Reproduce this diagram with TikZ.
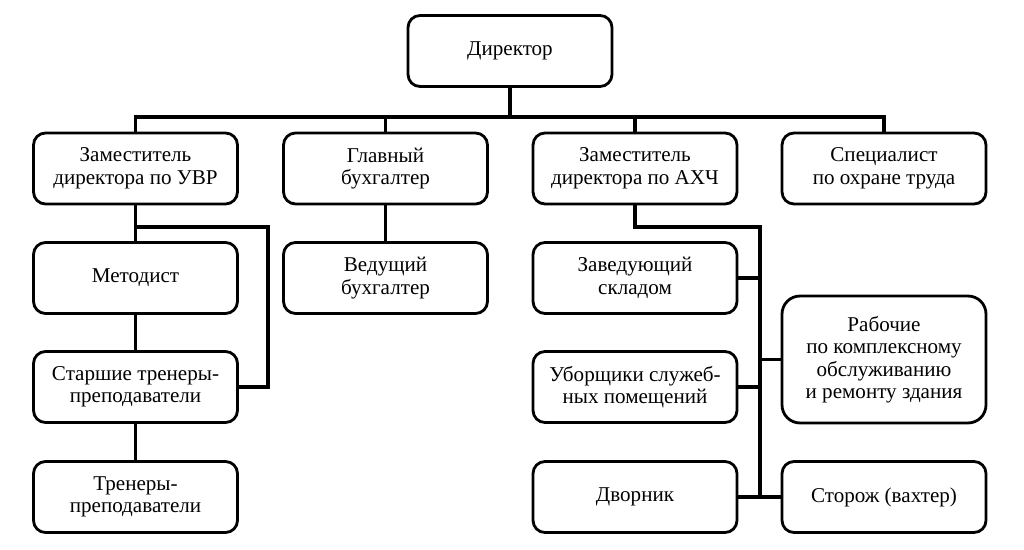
\documentclass[tikz,border=0pt]{standalone}
\usepackage{fontspec}
\setmainfont{Liberation Serif}
\usepackage{tikz}

\begin{document}
\begin{tikzpicture}[x=0.02cm, y=-0.02cm,
    block/.style={draw, line width=1.6pt, rounded corners=0.24cm, align=center,
        minimum width=4.08cm, minimum height=1.42cm, inner sep=2pt,
        font=\rmfamily\fontsize{12}{12.8}\selectfont},
    conn/.style={line width=2pt, line join=miter}]
    \useasboundingbox (0,0) rectangle (1024,550);

    % Top level
    \node[block] (dir) at (510,51) {Директор};

    % First row
    \node[block] (zuvr) at (135.5,168.5) {Заместитель\\директора по УВР};
    \node[block] (glbuh) at (385.5,168.5) {Главный\\бухгалтер};
    \node[block] (zahch) at (635,168.5) {Заместитель\\директора по АХЧ};
    \node[block] (spec) at (884,168.5) {Специалист\\по охране труда};

    % Under the deputy for UVR
    \node[block] (metod) at (135.5,278) {Методист};
    \node[block] (sttren) at (135.5,387) {Старшие тренеры-\\преподаватели};
    \node[block] (tren) at (135.5,497) {Тренеры-\\преподаватели};

    % Under the chief accountant
    \node[block] (vedbuh) at (385.5,278) {Ведущий\\бухгалтер};

    % Under the deputy for AHCh
    \node[block] (zavskl) at (635,278) {Заведующий\\складом};
    \node[block] (uborsh) at (635,387) {Уборщики служеб-\\ных помещений};
    \node[block] (dvor) at (635,497) {Дворник};
    \node[block, minimum height=2.54cm, rounded corners=0.36cm] (rab) at (884,359.5)
        {Рабочие\\по комплексному\\обслуживанию\\и ремонту здания};
    \node[block] (storozh) at (884,497) {Сторож (вахтер)};

    % Bus under the director
    \coordinate (bus) at (510,117);
    \draw[conn] (dir.south) -- (bus);
    \draw[conn] (zuvr.north) -- (zuvr.north |- bus) -- (spec.north |- bus) -- (spec.north);
    \draw[conn] (glbuh.north) -- (glbuh.north |- bus);
    \draw[conn] (zahch.north) -- (zahch.north |- bus);

    % UVR branch
    \coordinate (uvrbr) at (268,227);
    \draw[conn] (zuvr.south) -- (metod.north);
    \draw[conn] (metod.south) -- (sttren.north);
    \draw[conn] (sttren.south) -- (tren.north);
    \draw[conn] (zuvr.south |- uvrbr) -- (uvrbr) |- (sttren.east);

    \draw[conn] (glbuh.south) -- (vedbuh.north);

    % AHCh branch
    \coordinate (ahcbr) at (760,227);
    \draw[conn] (zahch.south) |- (ahcbr) -- (ahcbr |- dvor.east);
    \draw[conn] (zavskl.east) -- (zavskl.east -| ahcbr);
    \draw[conn] (uborsh.east) -- (uborsh.east -| ahcbr);
    \draw[conn] (rab.west) -- (rab.west -| ahcbr);
    \draw[conn] (dvor.east) -- (storozh.west);
\end{tikzpicture}
\end{document}
